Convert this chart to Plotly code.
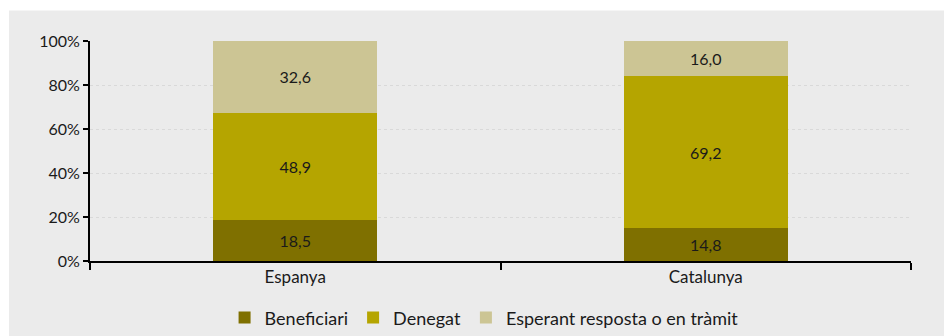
import plotly.graph_objects as go

# Data
categories = ["Espanya", "Catalunya"]
series_names = ["Beneficiari", "Denegat", "Esperant resposta o en tràmit"]
beneficiari = [18.5, 14.8]
denegat = [48.9, 69.2]
esperant = [32.6, 16.0]
colors = ["#7f7000", "#b5a500", "#ccc594"]
y_ticks = [0, 20, 40, 60, 80, 100]
y_tick_labels = ["0%", "20%", "40%", "60%", "80%", "100%"]

FONT = "Lato"

fig = go.Figure()
for name, vals, col in zip(series_names, [beneficiari, denegat, esperant], colors):
    fig.add_trace(go.Bar(
        name=name,
        x=categories,
        y=vals,
        marker=dict(color=col, line=dict(width=0)),
        text=[f"{v:.1f}".replace(".", ",") for v in vals],
        textposition="inside",
        insidetextanchor="middle",
        textfont=dict(family=FONT, size=16, color="#1a1a1a"),
        textangle=0,
        hoverinfo="skip",
    ))

fig.update_layout(
    barmode="stack",
    bargap=0.6,
    width=944,
    height=336,
    margin=dict(l=90, r=33, t=41, b=75, autoexpand=False),
    paper_bgcolor="white",
    plot_bgcolor="rgba(0,0,0,0)",
    font=dict(family=FONT, size=15, color="#1a1a1a"),
    uniformtext=dict(mode="show", minsize=10),
    legend=dict(
        orientation="h",
        x=0.48, xanchor="center",
        yref="container",
        y=0.054, yanchor="middle",
        font=dict(family=FONT, size=18, color="#1a1a1a"),
        traceorder="normal",
        itemwidth=30,
        bgcolor="rgba(0,0,0,0)",
    ),
    shapes=[dict(
        type="rect", xref="paper", yref="paper",
        x0=-0.0987, x1=1.05, y0=-0.4, y1=1.139,
        fillcolor="#ebebeb", line=dict(width=0), layer="below",
    )],
)

fig.update_yaxes(
    range=[0, 100],
    tickvals=y_ticks,
    ticktext=y_tick_labels,
    showgrid=True,
    gridcolor="#d9d9d9",
    gridwidth=1,
    griddash="dot",
    showline=True,
    linecolor="black",
    linewidth=2,
    ticks="outside",
    ticklen=5,
    tickwidth=2,
    tickcolor="black",
    zeroline=False,
    tickfont=dict(family=FONT, size=16, color="#1a1a1a"),
    fixedrange=True,
)
fig.update_xaxes(
    showline=True,
    linecolor="black",
    linewidth=2,
    ticks="outside",
    tickson="boundaries",
    ticklen=7,
    tickwidth=1.5,
    tickcolor="black",
    tickfont=dict(family=FONT, size=17, color="#1a1a1a"),
    fixedrange=True,
)

fig.write_html("out.html")
